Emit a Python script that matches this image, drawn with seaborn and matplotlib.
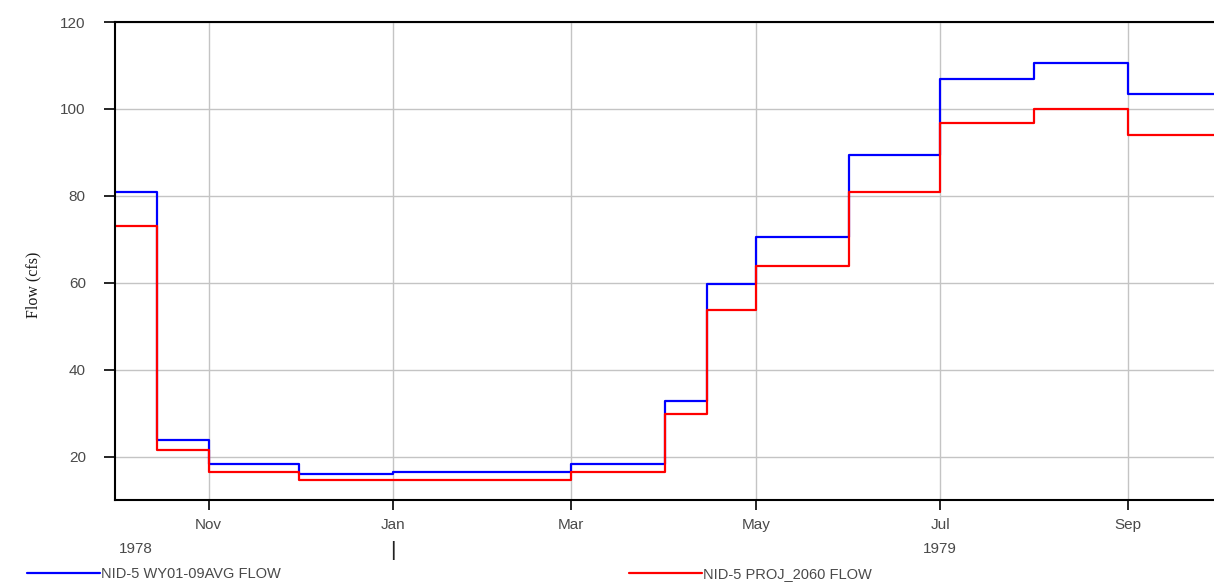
import matplotlib
matplotlib.use("Agg")
import matplotlib.pyplot as plt
import matplotlib.dates as mdates
from matplotlib.lines import Line2D
import seaborn as sns
import pandas as pd

# period start dates (Oct and Apr split in halves), last entry closes the final step
periods = ["1978-10-01", "1978-10-15", "1978-11-01", "1978-12-01", "1979-01-01",
           "1979-02-01", "1979-03-01", "1979-04-01", "1979-04-15", "1979-05-01",
           "1979-06-01", "1979-07-01", "1979-08-01", "1979-09-01", "1979-10-01"]
avg_flow = [80.8, 23.7, 18.2, 16.0, 16.4, 16.5, 18.2, 32.9, 59.8, 70.6,
            89.4, 106.8, 110.5, 103.5, 103.5]
proj_flow = [73.0, 21.4, 16.4, 14.5, 14.6, 14.7, 16.5, 29.9, 53.8, 63.9,
             80.9, 96.7, 99.9, 94.0, 94.0]
avg_name = "NID-5 WY01-09AVG FLOW"
proj_name = "NID-5 PROJ_2060 FLOW"

df = pd.DataFrame({"date": pd.to_datetime(periods), "avg": avg_flow, "proj": proj_flow})

sns.set_style("white")
plt.rcParams["font.family"] = ["Liberation Sans", "DejaVu Sans"]

fig = plt.figure(figsize=(12.14, 5.84), dpi=100)
ax = fig.add_axes([0.0947, 0.1438, 0.9063, 0.8185])

sns.lineplot(data=df, x="date", y="avg", ax=ax, color="#0000ff", lw=1.6,
             drawstyle="steps-post", estimator=None, sort=False)
sns.lineplot(data=df, x="date", y="proj", ax=ax, color="#ff0000", lw=1.6,
             drawstyle="steps-post", estimator=None, sort=False)

ax.set_xlim(pd.Timestamp("1978-10-01"), pd.Timestamp("1979-09-30"))
ax.set_ylim(10, 120)
ax.set_yticks([20, 40, 60, 80, 100, 120])

ax.xaxis.set_major_locator(mdates.MonthLocator(bymonth=[1, 3, 5, 7, 9, 11]))
ax.xaxis.set_major_formatter(mdates.DateFormatter("%b"))

ax.grid(True, color="#c4c4c4", lw=1.0)
for side in ["left", "bottom", "top"]:
    ax.spines[side].set_visible(True)
    ax.spines[side].set_color("black")
    ax.spines[side].set_linewidth(1.5)
ax.spines["right"].set_visible(False)

ax.tick_params(axis="y", direction="out", length=8, width=1.2, color="black",
               labelsize=11, labelcolor="#4a4a4a", pad=13, left=True)
ax.tick_params(axis="x", direction="out", length=7, width=1.2, color="black",
               labelsize=11, labelcolor="#4a4a4a", pad=6, bottom=True)

ax.set_xlabel("")
ax.set_ylabel("Flow (cfs)", family="Liberation Serif", fontsize=11.5, color="#1a1a1a")
ax.yaxis.set_label_coords(-0.067, 0.45)

# year row under the month labels
trans = ax.get_xaxis_transform()
ax.text(pd.Timestamp("1978-10-08"), -0.102, "1978", transform=trans, ha="center",
        va="center", fontsize=11, color="#4a4a4a")
ax.text(pd.Timestamp("1979-01-01"), -0.105, "|", transform=trans, ha="center",
        va="center", fontsize=15, color="#222222")
ax.text(pd.Timestamp("1979-07-01"), -0.102, "1979", transform=trans, ha="center",
        va="center", fontsize=11, color="#4a4a4a")

h1 = Line2D([], [], color="#0000ff", lw=1.6)
h2 = Line2D([], [], color="#ff0000", lw=1.6)
kw = dict(frameon=False, handlelength=5.0, handletextpad=0.1, fontsize=10.5,
          labelcolor="#4a4a4a", borderaxespad=0, borderpad=0)
leg1 = fig.legend([h1], [avg_name], loc="center left", bbox_to_anchor=(0.022, 0.017), **kw)
leg2 = fig.legend([h2], [proj_name], loc="center left", bbox_to_anchor=(0.518, 0.017), **kw)

fig.savefig("out.png", dpi=100)
